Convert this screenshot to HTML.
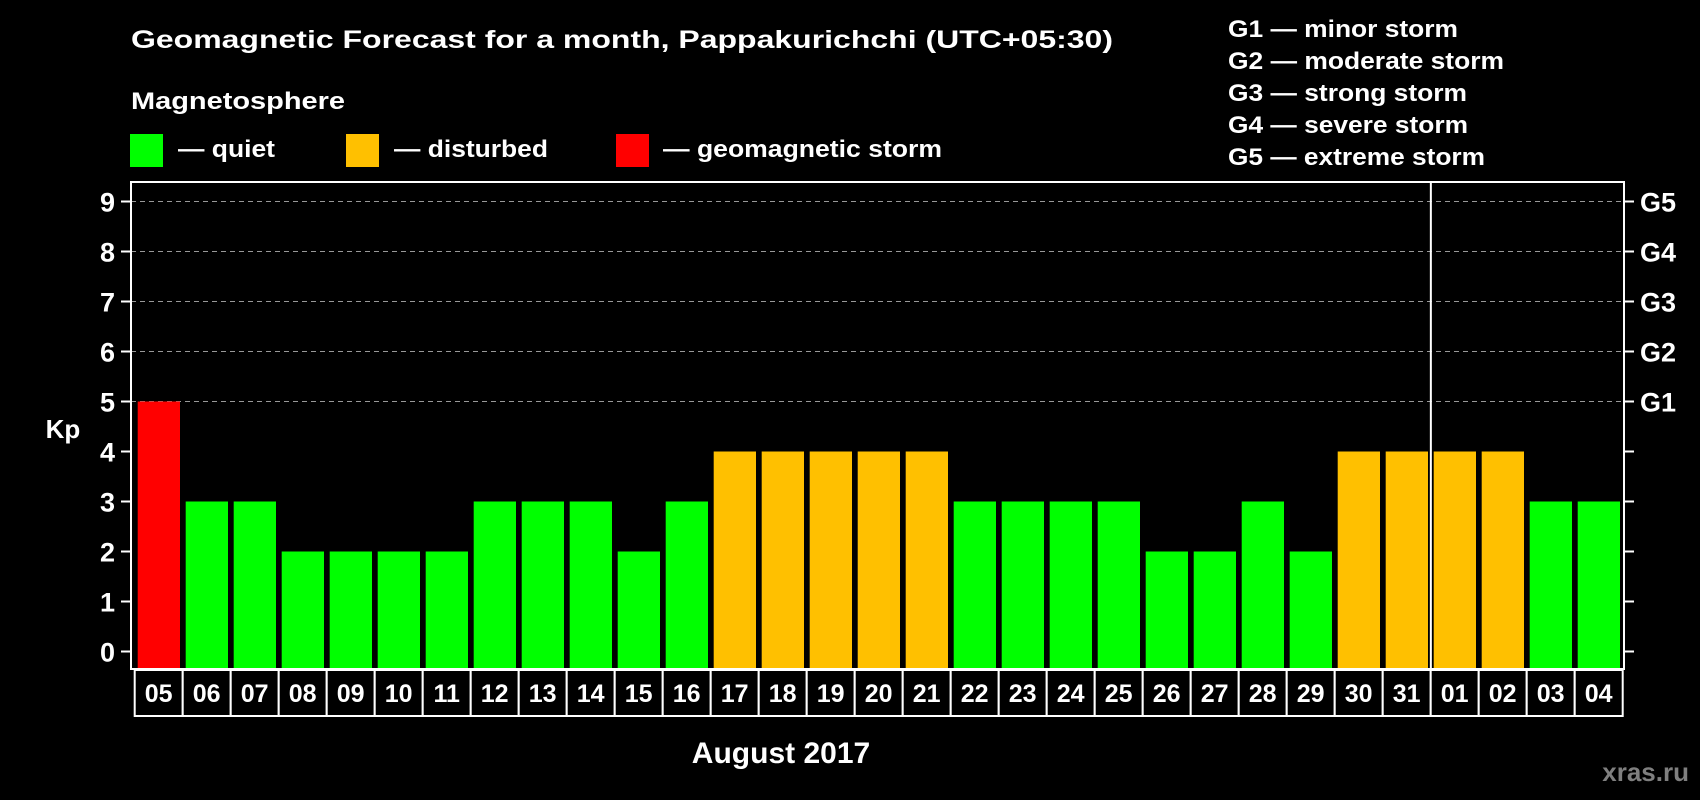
<!DOCTYPE html>
<html><head><meta charset="utf-8"><style>
html,body{margin:0;padding:0;background:#000;}
svg{display:block;font-family:"Liberation Sans",Arial,sans-serif;font-weight:bold;}
</style></head><body>
<svg id="chart" width="1700" height="800" viewBox="0 0 1700 800" xmlns="http://www.w3.org/2000/svg">
<rect width="1700" height="800" fill="#000"/>
<text x="131" y="48" fill="#fff" font-size="25" textLength="982" lengthAdjust="spacingAndGlyphs">Geomagnetic Forecast for a month, Pappakurichchi (UTC+05:30)</text>
<text x="131" y="109" fill="#fff" font-size="24" textLength="214" lengthAdjust="spacingAndGlyphs">Magnetosphere</text>
<g>
<rect x="130" y="134" width="33" height="33" fill="#00ff00"/>
<text x="178" y="157" fill="#fff" font-size="24" textLength="97" lengthAdjust="spacingAndGlyphs">— quiet</text></g>
<g>
<rect x="346" y="134" width="33" height="33" fill="#ffc000"/>
<text x="394" y="157" fill="#fff" font-size="24" textLength="154" lengthAdjust="spacingAndGlyphs">— disturbed</text></g>
<g>
<rect x="616" y="134" width="33" height="33" fill="#ff0000"/>
<text x="663" y="157" fill="#fff" font-size="24" textLength="279" lengthAdjust="spacingAndGlyphs">— geomagnetic storm</text></g>
<g fill="#fff" font-size="24">
<text x="1228" y="37" textLength="230" lengthAdjust="spacingAndGlyphs">G1 — minor storm</text>
<text x="1228" y="69" textLength="276" lengthAdjust="spacingAndGlyphs">G2 — moderate storm</text>
<text x="1228" y="101" textLength="239" lengthAdjust="spacingAndGlyphs">G3 — strong storm</text>
<text x="1228" y="133" textLength="240" lengthAdjust="spacingAndGlyphs">G4 — severe storm</text>
<text x="1228" y="165" textLength="257" lengthAdjust="spacingAndGlyphs">G5 — extreme storm</text>
</g>
<g id="grid"></g>
<g id="bars"></g>
<g id="axes"></g>
<text x="63" y="438" fill="#fff" font-size="26" text-anchor="middle">Kp</text>
<text x="781" y="763" fill="#fff" font-size="30" text-anchor="middle">August 2017</text>
<text x="1689" y="781" fill="#7f7f7f" font-size="26" text-anchor="end">xras.ru</text>
</svg>
<script>
const days = ["05","06","07","08","09","10","11","12","13","14","15","16","17","18","19","20","21","22","23","24","25","26","27","28","29","30","31","01","02","03","04"];
const kpValues = [5,3,3,2,2,2,2,3,3,3,2,3,4,4,4,4,4,3,3,3,3,2,2,3,2,4,4,4,4,3,3];
const yTicks = [0,1,2,3,4,5,6,7,8,9];
const gLabels = ["G1","G2","G3","G4","G5"];
const gLevels = [5,6,7,8,9];
const monthBreakIndex = 27;

const NS="http://www.w3.org/2000/svg";
const plotLeft=131,plotRight=1624,plotTop=182,plotBottom=669;
const x0=137.7,pitch=48,barW=42.3;
function yScale(v){return 651.5-v*50;}
function xScale(i){return x0+i*pitch;}
function mk(tag,attrs,parent){const e=document.createElementNS(NS,tag);for(const k in attrs)e.setAttribute(k,attrs[k]);parent.appendChild(e);return e;}
const gridG=document.getElementById('grid'),barsG=document.getElementById('bars'),axesG=document.getElementById('axes');

gLevels.forEach((v,i)=>{
  const l=mk('line',{x1:plotLeft,x2:plotRight,y1:yScale(v),y2:yScale(v),stroke:'#999','stroke-width':1,'stroke-dasharray':'5,4'},gridG);
  
  
  const t=mk('text',{x:1640,y:yScale(v)+10,fill:'#fff','font-size':27},axesG);
  t.textContent=gLabels[i];
  
  
});
kpValues.forEach((v,i)=>{
  const c=v>=5?'#ff0000':(v>=4?'#ffc000':'#00ff00');
  const r=mk('rect',{x:xScale(i),y:yScale(v),width:barW,height:plotBottom-yScale(v),fill:c},barsG);
  
  
});
yTicks.forEach(v=>{
  mk('line',{x1:121,x2:plotLeft,y1:yScale(v),y2:yScale(v),stroke:'#fff','stroke-width':2},axesG);
  mk('line',{x1:plotRight,x2:1634,y1:yScale(v),y2:yScale(v),stroke:'#fff','stroke-width':2},axesG);
  const t=mk('text',{x:115,y:yScale(v)+10,fill:'#fff','font-size':27,'text-anchor':'end'},axesG);
  t.textContent=v;
  
  
});
const frame=mk('rect',{x:plotLeft,y:plotTop,width:plotRight-plotLeft,height:plotBottom-plotTop,fill:'none',stroke:'#fff','stroke-width':2},axesG);


const sx=(xScale(monthBreakIndex-1)+barW+xScale(monthBreakIndex))/2;
const sep=mk('line',{x1:sx,x2:sx,y1:plotTop,y2:plotBottom,stroke:'#fff','stroke-width':2},axesG);


days.forEach((d,i)=>{
  const bx=xScale(i)-3;
  const b=mk('rect',{x:bx,y:670,width:pitch,height:46,fill:'#000',stroke:'#fff','stroke-width':2},axesG);
  
  
  const t=mk('text',{x:bx+pitch/2,y:702,fill:'#fff','font-size':25,'text-anchor':'middle'},axesG);
  t.textContent=d;
  
  
});
</script>
</body></html>
